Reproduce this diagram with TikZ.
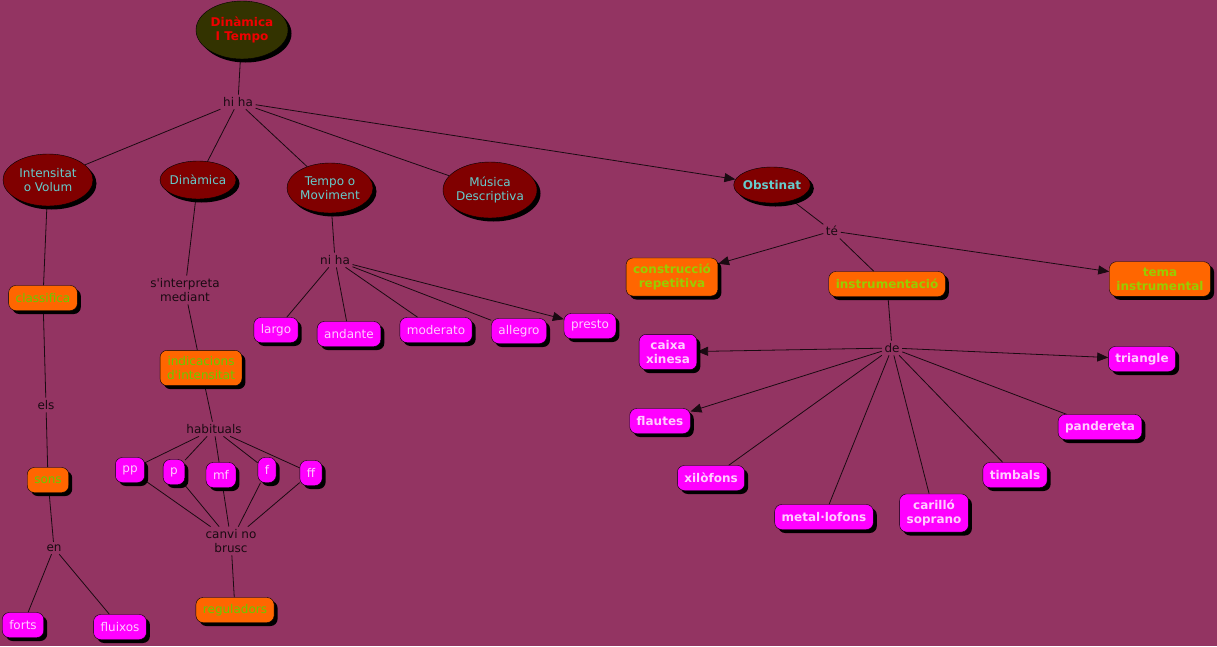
\documentclass[tikz,border=0pt]{standalone}
\usepackage{fontspec}
\setmainfont{DejaVu Sans}
\usetikzlibrary{arrows.meta,shapes.geometric,shadows}
\definecolor{cBg}{HTML}{933462}
\definecolor{cRed}{HTML}{800000}
\definecolor{cOlive}{HTML}{333300}
\definecolor{cTitle}{HTML}{F00000}
\definecolor{cCyan}{HTML}{66CCCC}
\definecolor{cOrange}{HTML}{FF6600}
\definecolor{cGreen}{HTML}{66CC00}
\definecolor{cLime}{HTML}{99CC00}
\definecolor{cMag}{HTML}{FF00FF}
\definecolor{cPink}{HTML}{FFCCFF}
\definecolor{cLine}{HTML}{1A0A12}
\newcommand\fs{\fontsize{12}{14}\selectfont}
\pgfdeclarelayer{edges}
\pgfsetlayers{edges,main}
\tikzset{
  shd/.style={drop shadow={shadow xshift=3.5pt, shadow yshift=-3.5pt, fill=black, opacity=1}},
  ell/.style={ellipse, draw=black, fill=cRed, text=cCyan, align=center,
              inner sep=-2pt, font=\fs, shd},
  ellTop/.style={ell, fill=cOlive, text=cTitle, font=\fs\bfseries},
  boxO/.style={rectangle, rounded corners=7pt, draw=black, fill=cOrange, text=cGreen,
               align=center, inner xsep=7pt, inner ysep=6pt, minimum height=25pt,
               font=\fs, shd},
  boxOb/.style={boxO, text=cLime, font=\fs\bfseries},
  boxM/.style={boxO, fill=cMag, text=cPink},
  boxMb/.style={boxM, font=\fs\bfseries},
  lbl/.style={text=cLine, inner sep=2.5pt, align=center, font=\fs},
  ln/.style={cLine, line width=0.8pt},
  ar/.style={ln, -{Triangle[length=11pt,width=9pt]}}
}
\begin{document}
\begin{tikzpicture}[x=1pt, y=-1pt]
\useasboundingbox (0,0) rectangle (1217,646);
\begin{pgfonlayer}{edges}
\fill[cBg] (0,0) rectangle (1217,646);
\end{pgfonlayer}
\node[ellTop, minimum width=92pt, minimum height=58pt] (top) at (242,30) {Dinàmica\\I Tempo};
\node[ell, minimum width=90pt, minimum height=52pt] (intens) at (48,180) {Intensitat\\o Volum};
\node[ell, minimum width=76pt, minimum height=38pt] (dinam) at (198,180) {Dinàmica};
\node[ell, minimum width=86pt, minimum height=50pt] (tempo) at (330,188) {Tempo o\\Moviment};
\node[ell, minimum width=94pt, minimum height=56pt] (music) at (490,190) {Música\\Descriptiva};
\node[ell, font=\fs\bfseries, minimum width=75pt, minimum height=36pt] (obst) at (772,185) {Obstinat};
\node[lbl] (hiha) at (238,102) {hi ha};
\node[lbl] (niha) at (335,260) {ni ha};
\node[lbl] (te) at (832,231) {té};
\node[lbl] (de) at (892,348) {de};
\node[lbl] (els) at (46,405) {els};
\node[lbl] (en) at (54,548) {en};
\node[lbl] (interp) at (185,290) {s\textquotesingle interpreta\\mediant};
\node[lbl] (habit) at (214,429) {habituals};
\node[lbl] (canvi) at (231,541) {canvi no\\brusc};
\node[boxO] (classif) at (43,298) {classifica};
\node[boxO] (sons) at (48,480) {sons};
\node[boxM] (forts) at (23,625) {forts};
\node[boxM] (fluixos) at (120,627) {fluixos};
\node[boxO] (indic) at (201,368) {indicacions\\d\textquotesingle intensitat};
\node[boxM] (pp) at (130,470) {pp};
\node[boxM] (p) at (174,472) {p};
\node[boxM] (mf) at (221,475) {mf};
\node[boxM] (f) at (267,470) {f};
\node[boxM] (ff) at (311,473) {ff};
\node[boxO] (reg) at (235,610) {reguladors};
\node[boxM] (largo) at (276,330) {largo};
\node[boxM] (andante) at (349,334) {andante};
\node[boxM] (moderato) at (436,330) {moderato};
\node[boxM] (allegro) at (519,331) {allegro};
\node[boxM] (presto) at (590,326) {presto};
\node[boxOb] (constr) at (672,277) {construcció\\repetitiva};
\node[boxOb] (instr) at (887,284) {instrumentació};
\node[boxOb] (tema) at (1160,279) {tema\\instrumental};
\node[boxMb] (caixa) at (668,352) {caixa\\xinesa};
\node[boxMb] (tri) at (1142,359) {triangle};
\node[boxMb] (flautes) at (660,421) {flautes};
\node[boxMb] (pander) at (1100,427) {pandereta};
\node[boxMb] (xilo) at (711,478) {xilòfons};
\node[boxMb] (timbals) at (1015,475) {timbals};
\node[boxMb] (metal) at (824,517) {metal·lofons};
\node[boxMb] (carillo) at (934,513) {carilló\\soprano};
\begin{pgfonlayer}{edges}
\draw[ln](top)--(hiha);
\draw[ln](hiha)--(intens);\draw[ln](hiha)--(dinam);\draw[ln](hiha)--(tempo);\draw[ln](hiha)--(music);\draw[ar](hiha)--(obst);
\draw[ln](intens)--(classif);\draw[ln](classif)--(els);\draw[ln](els)--(sons);\draw[ln](sons)--(en);
\draw[ln](en)--(forts);\draw[ln](en)--(fluixos);
\draw[ln](dinam)--(interp);\draw[ln](interp)--(indic);\draw[ln](indic)--(habit);
\foreach \n in {pp,p,mf,f,ff}{\draw[ln](habit)--(\n);\draw[ln](\n)--(canvi);}
\draw[ln](canvi)--(reg);
\draw[ln](tempo)--(niha);
\foreach \n in {largo,andante,moderato,allegro}{\draw[ln](niha)--(\n);}
\draw[ar](niha)--(presto);
\draw[ln](obst)--(te);\draw[ar](te)--(constr);\draw[ln](te)--(instr);\draw[ar](te)--(tema);
\draw[ln](instr)--(de);
\draw[ar](de)--(caixa);\draw[ar](de)--(flautes);\draw[ar](de)--(tri);
\foreach \n in {xilo,metal,carillo,timbals,pander}{\draw[ln](de)--(\n);}
\end{pgfonlayer}
\end{tikzpicture}
\end{document}
